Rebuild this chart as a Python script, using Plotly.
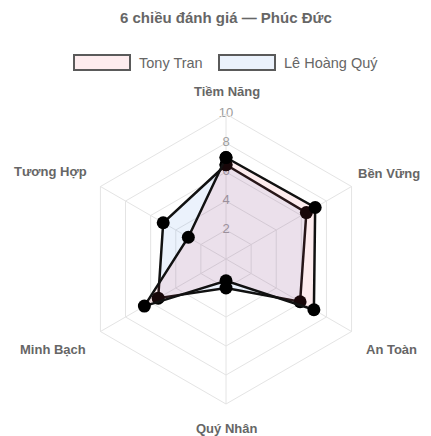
import plotly.graph_objects as go

W, H = 431, 436

title_text = "6 chiều đánh giá — Phúc Đức"
categories = ["Tiềm Năng", "Bền Vững", "An Toàn", "Quý Nhân", "Minh Bạch", "Tương Hợp"]
series_names = ["Tony Tran", "Lê Hoàng Quý"]
tony_values = [7.0, 7.1, 7.0, 1.5, 6.5, 3.0]
quy_values = [6.5, 6.4, 5.9, 2.0, 5.4, 5.0]
radial_ticks = [2, 4, 6, 8, 10]

# styling
FONT = "Liberation Sans, Arial, sans-serif"
LABEL_GRAY = "#666666"
GRID = "#e4e4e4"
tony_fill = "rgba(235,65,85,0.10)"
quy_fill = "rgba(55,125,225,0.10)"
tony_legend_fill = "#fdecee"
quy_legend_fill = "#ebf2fc"

# page offset (body margin) and polar geometry (target px in screenshot)
OFF = 8
cx, cy, R = 226, 259, 145


def px(x):
    return (x - OFF) / W


def py(y):
    return 1 - (y - OFF) / H


fig = go.Figure()

# radial tick labels centred on the top spoke
fig.add_trace(go.Scatterpolar(
    r=radial_ticks,
    theta=[categories[0]] * len(radial_ticks),
    mode="text",
    text=[str(t) for t in radial_ticks],
    textfont=dict(family=FONT, size=13, color="#9c9c9c"),
    showlegend=False, hoverinfo="skip",
))


def closed(v):
    return list(v) + [v[0]]


cats_closed = closed(categories)

fig.add_trace(go.Scatterpolar(
    r=closed(quy_values), theta=cats_closed, name=series_names[1],
    mode="lines+markers", fill="toself", fillcolor=quy_fill,
    line=dict(color="#111111", width=2.5),
    marker=dict(size=13, color="#000000"),
    showlegend=False,
))
fig.add_trace(go.Scatterpolar(
    r=closed(tony_values), theta=cats_closed, name=series_names[0],
    mode="lines+markers", fill="toself", fillcolor=tony_fill,
    line=dict(color="#111111", width=2.5),
    marker=dict(size=13, color="#000000"),
    showlegend=False,
))

fig.update_layout(
    width=W, height=H,
    margin=dict(l=0, r=0, t=0, b=0),
    paper_bgcolor="white",
    showlegend=False,
    polar=dict(
        domain=dict(x=[px(cx - R), px(cx + R)], y=[py(cy + R), py(cy - R)]),
        bgcolor="white",
        gridshape="linear",
        angularaxis=dict(direction="clockwise", rotation=90,
                         showticklabels=False, ticks="",
                         gridcolor=GRID, linecolor=GRID, linewidth=1,
                         showline=True),
        radialaxis=dict(range=[0, 10], tickvals=radial_ticks,
                        showticklabels=False, ticks="", showline=False,
                        gridcolor=GRID),
    ),
)

annotations = []
annotations.append(dict(x=px(226), y=py(17), xref="paper", yref="paper",
                        xanchor="center", yanchor="middle",
                        text="<b>" + title_text + "</b>", showarrow=False,
                        font=dict(family=FONT, size=15, color=LABEL_GRAY)))

label_pos = [(227, 92), (389, 173), (391, 349), (227, 428), (53, 349), (50, 172)]
for name, (x, y) in zip(categories, label_pos):
    annotations.append(dict(x=px(x), y=py(y), xref="paper", yref="paper",
                            xanchor="center", yanchor="middle",
                            text="<b>" + name + "</b>", showarrow=False,
                            font=dict(family=FONT, size=13, color=LABEL_GRAY)))

# custom legend
legend_items = [
    (series_names[0], tony_legend_fill, 74, 130, 137),
    (series_names[1], quy_legend_fill, 219, 275, 282),
]
shapes = []
for name, fillc, x0, x1, tx in legend_items:
    shapes.append(dict(type="rect", xref="paper", yref="paper",
                       x0=px(x0), x1=px(x1), y0=py(70), y1=py(55),
                       fillcolor=fillc, line=dict(color="#5a5a5a", width=2)))
    annotations.append(dict(x=px(tx), y=py(62.5), xref="paper", yref="paper",
                            xanchor="left", yanchor="middle", text=name,
                            showarrow=False,
                            font=dict(family=FONT, size=14.5, color=LABEL_GRAY)))

fig.update_layout(annotations=annotations, shapes=shapes)

fig.write_html("out.html")
